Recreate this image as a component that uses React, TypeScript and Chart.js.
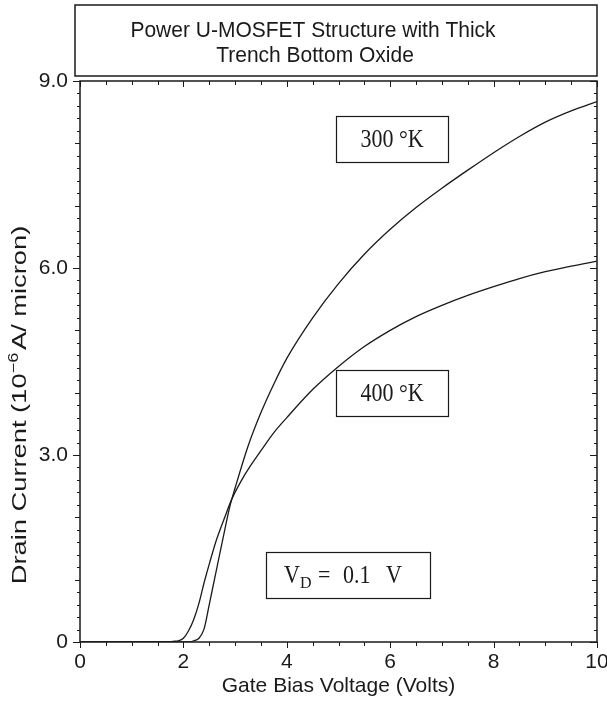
import { useEffect, useRef } from "react";
import { Chart, registerables } from "chart.js";

Chart.register(...registerables);

// ---- data ----
const gateV300 = [0, 1.8, 2.1, 2.2, 2.3, 2.4, 2.5, 2.6, 2.7, 2.8, 2.9, 3.0, 3.25, 3.5, 3.75, 4.0, 4.5, 5.0, 5.5, 6.0, 6.5, 7.0, 7.5, 8.0, 8.5, 9.0, 9.5, 10];
const drain300 = [0, 0, 0, 0.02, 0.06, 0.21, 0.6, 1.0, 1.4, 1.8, 2.18, 2.47, 3.14, 3.68, 4.14, 4.55, 5.2, 5.75, 6.22, 6.62, 6.97, 7.28, 7.57, 7.85, 8.11, 8.34, 8.52, 8.67];
const gateV400 = [0, 1.7, 1.8, 1.9, 2.0, 2.1, 2.2, 2.3, 2.4, 2.5, 2.64, 2.8, 2.93, 3.2, 3.5, 3.75, 4.0, 4.5, 5.0, 5.5, 6.0, 6.5, 7.0, 7.5, 8.0, 8.5, 9.0, 9.5, 10];
const drain400 = [0, 0, 0.01, 0.02, 0.06, 0.18, 0.36, 0.62, 0.95, 1.25, 1.64, 2.0, 2.28, 2.7, 3.07, 3.36, 3.6, 4.05, 4.42, 4.74, 5.0, 5.22, 5.4, 5.56, 5.7, 5.83, 5.94, 6.03, 6.11];

const xTickValues = [0, 2, 4, 6, 8, 10];
const yTickValues = [0, 3, 6, 9];
const yTickLabels = ["0", "3.0", "6.0", "9.0"];
const titleLines = ["Power U-MOSFET Structure with Thick", "Trench Bottom Oxide"];
const xTitle = "Gate Bias Voltage (Volts)";
const yTitleParts = ["Drain Current (10", "\u22126", "A/ micron)"];
const label300 = "300 \u00B0K";
const label400 = "400 \u00B0K";
const vdParts = ["V", "D", "=", "0.1", "V"];

const SANS = "'Liberation Sans', Arial, sans-serif";
const SERIF = "'Liberation Serif', 'Times New Roman', serif";
const INK = "#1a1a1a";

function stretchedText(ctx: any, text: string, x: number, y: number, sy: number) {
  ctx.save();
  ctx.translate(x, y);
  ctx.scale(1, sy);
  ctx.fillText(text, 0, 0);
  ctx.restore();
}

const decorPlugin = {
  id: "decor",
  afterDraw(chart: any) {
    const { ctx, chartArea: ca, scales } = chart;
    const xs = scales.x;
    const ys = scales.y;
    ctx.save();
    ctx.strokeStyle = INK;
    ctx.fillStyle = INK;

    // frame
    ctx.lineWidth = 1.5;
    ctx.strokeRect(ca.left, ca.top, ca.right - ca.left, ca.bottom - ca.top);

    // x ticks (every 0.5)
    ctx.lineWidth = 1;
    for (let i = 0; i <= 20; i++) {
      const v = i * 0.5;
      const px = Math.round(xs.getPixelForValue(v)) + 0.5;
      const len = i % 4 === 0 ? 6 : 4;
      ctx.beginPath();
      ctx.moveTo(px, ca.bottom);
      ctx.lineTo(px, ca.bottom + len);
      ctx.moveTo(px, ca.top);
      ctx.lineTo(px, ca.top + len);
      ctx.stroke();
    }
    // y ticks (every 0.2)
    for (let i = 0; i <= 45; i++) {
      const v = i * 0.2;
      const py = Math.round(ys.getPixelForValue(v)) + 0.5;
      const len = i % 15 === 0 ? 7 : i % 5 === 0 ? 5 : 3;
      ctx.beginPath();
      ctx.moveTo(ca.left - len, py);
      ctx.lineTo(ca.left, py);
      ctx.moveTo(ca.right - len, py);
      ctx.lineTo(ca.right, py);
      ctx.stroke();
    }

    // title box
    ctx.lineWidth = 1.5;
    ctx.strokeRect(75, 5, 522, 71);
    ctx.font = `21px ${SANS}`;
    ctx.textAlign = "center";
    ctx.textBaseline = "middle";
    stretchedText(ctx, titleLines[0], 313, 31, 1.05);
    stretchedText(ctx, titleLines[1], 315, 56, 1.05);

    // y axis title with superscript (stretched along its length)
    ctx.save();
    ctx.translate(19, 405);
    ctx.rotate(-Math.PI / 2);
    ctx.scale(1.3, 1.0);
    const big = `21px ${SANS}`;
    const small = `14px ${SANS}`;
    ctx.font = big;
    const w1 = ctx.measureText(yTitleParts[0]).width;
    const w3 = ctx.measureText(yTitleParts[2]).width;
    ctx.font = small;
    const w2 = ctx.measureText(yTitleParts[1]).width;
    const total = w1 + w2 + w3 + 2;
    let cx = -total / 2;
    ctx.textAlign = "left";
    ctx.textBaseline = "alphabetic";
    ctx.font = big;
    ctx.fillText(yTitleParts[0], cx, 7);
    cx += w1;
    ctx.font = small;
    ctx.fillText(yTitleParts[1], cx, -1);
    cx += w2 + 2;
    ctx.font = big;
    ctx.fillText(yTitleParts[2], cx, 7);
    ctx.restore();

    // annotation boxes
    ctx.lineWidth = 1.2;
    ctx.strokeRect(336.5, 116.5, 112, 46);
    ctx.strokeRect(336.5, 370.5, 112, 46);
    ctx.strokeRect(266.5, 552.5, 164, 46);
    ctx.font = `22px ${SERIF}`;
    ctx.textAlign = "center";
    ctx.textBaseline = "alphabetic";
    stretchedText(ctx, label300, 392, 147, 1.1);
    stretchedText(ctx, label400, 392, 401, 1.1);

    // V_D = 0.1 V
    ctx.textAlign = "left";
    ctx.font = `22px ${SERIF}`;
    stretchedText(ctx, vdParts[0], 284, 583, 1.1);
    ctx.font = `16px ${SERIF}`;
    stretchedText(ctx, vdParts[1], 300, 588, 1.1);
    ctx.font = `22px ${SERIF}`;
    stretchedText(ctx, vdParts[2], 318, 583, 1.1);
    stretchedText(ctx, vdParts[3], 343, 583, 1.1);
    stretchedText(ctx, vdParts[4], 386, 583, 1.1);

    ctx.restore();
  },
};

export default function App() {
  const ref = useRef<HTMLCanvasElement | null>(null);

  useEffect(() => {
    if (!ref.current) return;
    const chart = new Chart(ref.current, {
      type: "line",
      data: {
        datasets: [
          {
            label: "300 K",
            data: gateV300.map((v, i) => ({ x: v, y: drain300[i] })),
            borderColor: INK,
            borderWidth: 1.3,
            pointRadius: 0,
            fill: false,
            cubicInterpolationMode: "monotone",
          },
          {
            label: "400 K",
            data: gateV400.map((v, i) => ({ x: v, y: drain400[i] })),
            borderColor: INK,
            borderWidth: 1.3,
            pointRadius: 0,
            fill: false,
            cubicInterpolationMode: "monotone",
          },
        ],
      },
      options: {
        responsive: false,
        animation: false,
        layout: { padding: { top: 81, right: 10, bottom: 0, left: 0 } },
        plugins: {
          legend: { display: false },
          tooltip: { enabled: false },
          title: { display: false },
        },
        scales: {
          x: {
            type: "linear",
            min: 0,
            max: 10,
            afterBuildTicks: (scale: any) => {
              scale.ticks = xTickValues.map((v) => ({ value: v }));
            },
            afterFit: (scale: any) => {
              scale.height = 61;
              scale.paddingLeft = 0;
              scale.paddingRight = 0;
            },
            grid: { display: false, drawTicks: false },
            border: { display: false },
            ticks: {
              padding: 8,
              color: INK,
              font: { family: SANS, size: 21 },
              maxRotation: 0,
              callback: (v: any) => String(v),
            },
            title: {
              display: true,
              text: xTitle,
              color: INK,
              font: { family: SANS, size: 21 },
              padding: { top: 0, bottom: 4 },
            },
          },
          y: {
            type: "linear",
            min: 0,
            max: 9,
            afterBuildTicks: (scale: any) => {
              scale.ticks = yTickValues.map((v) => ({ value: v }));
            },
            afterFit: (scale: any) => {
              scale.width = 80;
              scale.paddingTop = 0;
              scale.paddingBottom = 0;
            },
            grid: { display: false, drawTicks: false },
            border: { display: false },
            ticks: {
              padding: 12,
              color: INK,
              font: { family: SANS, size: 21 },
              callback: (v: any) => {
                const idx = yTickValues.indexOf(Number(v));
                return idx >= 0 ? yTickLabels[idx] : "";
              },
            },
          },
        },
      },
      plugins: [decorPlugin],
    } as any);
    return () => chart.destroy();
  }, []);

  return (
    <div style={{ position: "absolute", left: 0, top: 0, width: 607, height: 703, background: "#fff" }}>
      <canvas ref={ref} width={607} height={703} style={{ display: "block" }} />
    </div>
  );
}
